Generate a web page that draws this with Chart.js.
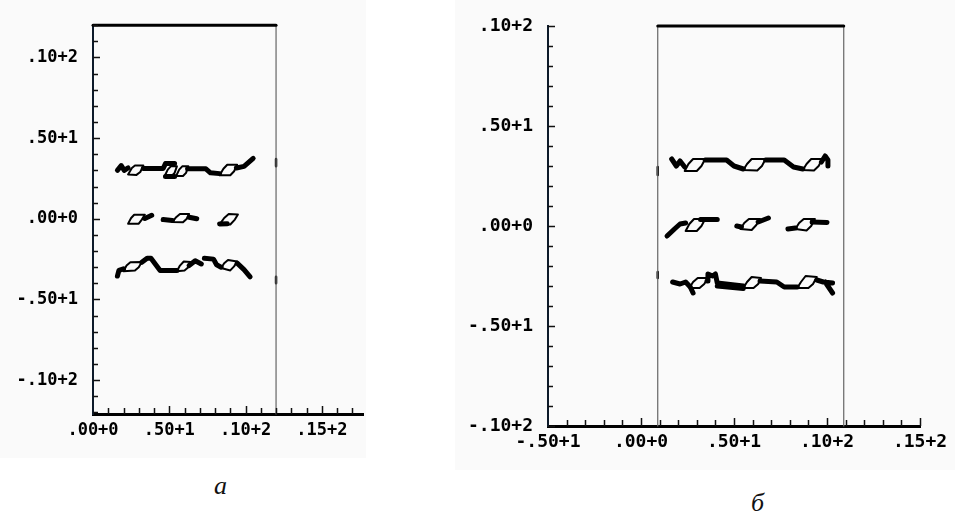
<!DOCTYPE html>
<html>
<head>
<meta charset="utf-8">
<script src="https://cdn.jsdelivr.net/npm/chart.js@4/dist/chart.umd.min.js"></script>
<style>
  body { margin: 0; background: #fff; width: 955px; height: 518px; overflow: hidden; position: relative; }
  canvas { position: absolute; top: 0; background: #fafafa; }
  #chartA { left: 0; }
  #chartB { left: 455px; }
  .cap { position: absolute; font: italic 26px "Liberation Serif", "DejaVu Serif", serif; line-height: 26px; color: #111; }
</style>
</head>
<body>
<canvas id="chartA" width="366" height="458"></canvas>
<canvas id="chartB" width="500" height="470"></canvas>
<div class="cap" style="left:214px; top:473px">а</div>
<div class="cap" style="left:751px; top:490px">б</div>

<script>
// tick values + the old-style labels printed on them
const yTicks = [-10, -5, 0, 5, 10];
const yLabels = ['-.10+2', '-.50+1', '.00+0', '.50+1', '.10+2'];
const xTicksA = [0, 5, 10, 15];
const xLabelsA = ['.00+0', '.50+1', '.10+2', '.15+2'];
const xTicksB = [-5, 0, 5, 10, 15];
const xLabelsB = ['-.50+1', '.00+0', '.50+1', '.10+2', '.15+2'];

// ---- panel a ----
const aBoxTop = [[0, 12], [12, 12]];
const aBoxSide = [[12, 12], [12, -12.1]];
const aMarks = [[12, 3.25], [12, 3.7], null, [12, -3.6], [12, -4.0]];

const aUpperThick = [
  [1.6, 3.0], [1.85, 3.3], [2.05, 3.0], [2.3, 3.15], null,
  [3.3, 3.12], [4.6, 3.12], [4.75, 3.42], [5.35, 3.42], null,
  [4.75, 2.62], [5.35, 2.62], null,
  [6.2, 3.1], [7.4, 3.1], [7.7, 2.85], [8.3, 2.8], null,
  [9.4, 3.15], [9.9, 3.25], [10.2, 3.5], [10.5, 3.75]
];
const aUpperLoops = [
  [2.3, 2.75], [2.55, 3.15], [2.75, 3.3], [3.3, 3.3], [3.1, 2.9], [2.85, 2.72], [2.3, 2.75], null,
  [4.7, 2.65], [4.9, 3.05], [5.1, 3.25], [5.5, 3.25], [5.35, 2.85], [5.15, 2.65], [4.7, 2.65], null,
  [5.45, 2.65], [5.65, 3.05], [5.85, 3.25], [6.25, 3.25], [6.1, 2.85], [5.9, 2.65], [5.45, 2.65], null,
  [8.3, 2.7], [8.55, 3.1], [8.8, 3.35], [9.45, 3.35], [9.25, 2.95], [9.0, 2.7], [8.3, 2.7]
];
const aMiddleThick = [
  [3.4, 0.02], [3.85, 0.22], null,
  [4.6, -0.05], [5.2, -0.1], null,
  [6.3, 0.1], [6.8, 0.0], null,
  [8.3, -0.32], [8.8, -0.3]
];
const aMiddleLoops = [
  [2.3, -0.3], [2.5, 0.05], [2.7, 0.25], [3.4, 0.25], [3.2, -0.05], [3.0, -0.3], [2.3, -0.3], null,
  [5.2, -0.2], [5.45, 0.1], [5.7, 0.3], [6.3, 0.3], [6.15, 0.0], [5.9, -0.22], [5.2, -0.2], null,
  [8.3, -0.35], [8.6, 0.05], [8.9, 0.3], [9.5, 0.27], [9.3, -0.05], [9.0, -0.35], [8.3, -0.35]
];
const aLowerThick = [
  [1.6, -3.55], [1.7, -3.2], [2.0, -3.1], null,
  [3.2, -2.7], [3.55, -2.45], [3.8, -2.45], [4.4, -3.2], [5.5, -3.2], null,
  [6.3, -2.9], [6.7, -2.6], [7.1, -2.8], null,
  [7.3, -2.45], [7.9, -2.5], [8.1, -2.85], [8.4, -3.0], null,
  [9.45, -2.75], [9.9, -3.15], [10.3, -3.6]
];
const aLowerLoops = [
  [2.0, -3.25], [2.2, -2.9], [2.45, -2.7], [3.2, -2.68], [3.0, -3.0], [2.75, -3.2], [2.0, -3.25], null,
  [5.5, -3.25], [5.7, -2.9], [5.95, -2.65], [6.4, -2.68], [6.25, -3.0], [6.0, -3.2], [5.5, -3.25], null,
  [8.4, -3.05], [8.6, -2.75], [8.85, -2.55], [9.45, -2.65], [9.25, -2.95], [9.0, -3.2], [8.4, -3.05]
];

// ---- panel б ----
const bBoxTop = [[0.9, 10], [10.9, 10]];
const bBoxSide = [[0.9, -10], [0.9, 10], null, [10.9, 10], [10.9, -10]];
const bMarks = [[0.9, 2.55], [0.9, 2.95], null, [0.9, -2.3], [0.9, -2.6]];

const bUpperThick = [
  [1.65, 3.35], [1.9, 3.0], [2.1, 3.25], [2.35, 2.95], null,
  [3.45, 3.3], [4.6, 3.3], [5.0, 3.0], [5.5, 2.85], null,
  [6.7, 3.3], [7.7, 3.3], [8.2, 2.95], [8.7, 2.85], null,
  [9.7, 3.2], [9.9, 3.5], [10.05, 3.3], [10.05, 3.0]
];
const bUpperLoops = [
  [2.35, 2.75], [2.55, 3.1], [2.8, 3.35], [3.45, 3.35], [3.25, 3.0], [3.0, 2.75], [2.35, 2.75], null,
  [5.5, 2.8], [5.7, 3.1], [5.95, 3.35], [6.7, 3.35], [6.5, 3.0], [6.25, 2.78], [5.5, 2.8], null,
  [8.7, 2.8], [8.9, 3.1], [9.15, 3.35], [9.75, 3.35], [9.55, 3.0], [9.3, 2.78], [8.7, 2.8]
];
const bMiddleThick = [
  [1.4, -0.5], [1.8, -0.15], [2.1, 0.1], [2.4, 0.15], null,
  [3.2, 0.33], [4.1, 0.33], null,
  [5.15, 0.0], [5.4, -0.05], null,
  [6.3, 0.2], [6.85, 0.4], null,
  [7.9, -0.15], [8.3, -0.1], null,
  [9.2, 0.2], [10.0, 0.18]
];
const bMiddleLoops = [
  [2.4, -0.25], [2.6, 0.1], [2.85, 0.35], [3.45, 0.35], [3.25, 0.0], [3.0, -0.25], [2.4, -0.25], null,
  [5.35, -0.15], [5.55, 0.15], [5.8, 0.35], [6.4, 0.35], [6.2, 0.05], [5.95, -0.2], [5.35, -0.15], null,
  [8.3, -0.15], [8.5, 0.15], [8.75, 0.35], [9.35, 0.35], [9.15, 0.0], [8.9, -0.22], [8.3, -0.15]
];
const bLowerThick = [
  [1.7, -2.8], [2.1, -2.9], [2.4, -2.8], [2.65, -3.05], [2.8, -3.35], null,
  [3.55, -2.75], [3.6, -2.4], [3.85, -2.5], [4.0, -2.4], [4.1, -2.85], [5.5, -3.0], null,
  [4.1, -3.0], [5.5, -3.12], null,
  [6.4, -2.75], [7.3, -2.8], [7.7, -3.05], [8.4, -3.05], null,
  [9.45, -2.7], [9.8, -2.8], [10.3, -2.85], null,
  [9.9, -2.8], [10.3, -3.35]
];
const bLowerLoops = [
  [2.6, -3.1], [2.8, -2.8], [3.05, -2.6], [3.6, -2.6], [3.4, -2.9], [3.15, -3.1], [2.6, -3.1], null,
  [5.5, -3.1], [5.7, -2.8], [5.95, -2.55], [6.45, -2.6], [6.3, -2.9], [6.05, -3.1], [5.5, -3.1], null,
  [8.4, -3.1], [8.6, -2.8], [8.85, -2.5], [9.45, -2.55], [9.25, -2.9], [9.0, -3.1], [8.4, -3.1]
];

const toPts = (arr) => arr.map(p => p ? { x: p[0], y: p[1] } : { x: null, y: null });

const line = (d, width, color) => ({
  data: toPts(d),
  showLine: true,
  spanGaps: false,
  borderColor: color || '#000',
  borderWidth: width,
  pointRadius: 0,
  borderJoinStyle: 'round',
  borderCapStyle: 'round',
  clip: false
});

// small tick marks drawn on the inner side of both axes, every unit
const innerTicks = {
  id: 'innerTicks',
  afterDraw(chart) {
    const { ctx, scales: { x, y } } = chart;
    ctx.save();
    ctx.strokeStyle = '#111';
    ctx.lineWidth = 1.5;
    ctx.beginPath();
    for (let v = Math.ceil(y.min); v <= y.max; v++) {
      const py = Math.round(y.getPixelForValue(v)) + 0.5;
      const len = v % 5 === 0 ? 7 : 5;
      ctx.moveTo(x.left, py);
      ctx.lineTo(x.left + len, py);
    }
    for (let v = Math.ceil(x.min) + 1; v <= x.max; v++) {
      const px = Math.round(x.getPixelForValue(v)) + 0.5;
      const len = v % 5 === 0 ? 8 : 6;
      ctx.moveTo(px, y.bottom);
      ctx.lineTo(px, y.bottom - len);
    }
    ctx.stroke();
    ctx.restore();
  }
};

const makeOptions = (xMin, xMax, yMin, yMax, xTicks, xLabels, fontSize, pad) => ({
  responsive: false,
  animation: false,
  events: [],
  layout: { padding: pad },
  plugins: { legend: { display: false }, tooltip: { enabled: false } },
  scales: {
    x: {
      type: 'linear', min: xMin, max: xMax,
      grid: { display: false, drawTicks: false },
      border: { display: true, color: '#000', width: 3 },
      afterBuildTicks: (s) => { s.ticks = xTicks.map(v => ({ value: v })); },
      afterFit: (s) => { s.height = 44; },
      ticks: {
        padding: 6, color: '#000', maxRotation: 0, autoSkip: false,
        font: { family: '"DejaVu Sans Mono", monospace', weight: 'bold', size: fontSize },
        callback: (v) => xLabels[xTicks.indexOf(v)]
      }
    },
    y: {
      type: 'linear', min: yMin, max: yMax,
      grid: { display: false, drawTicks: false },
      border: { display: true, color: '#0d1a2a', width: 2 },
      afterBuildTicks: (s) => { s.ticks = yTicks.map(v => ({ value: v })); },
      afterFit: (s) => { s.width = 93; },
      ticks: {
        padding: 15, color: '#000', autoSkip: false,
        font: { family: '"DejaVu Sans Mono", monospace', weight: 'bold', size: fontSize },
        callback: (v) => yLabels[yTicks.indexOf(v)]
      }
    }
  }
});

const chartA = new Chart(document.getElementById('chartA'), {
  type: 'scatter',
  data: {
    datasets: [
      line(aBoxTop, 3),
      line(aBoxSide, 1.2, '#666'),
      line(aMarks, 2.5),
      line(aUpperThick, 5), line(aUpperLoops, 2),
      line(aMiddleThick, 5), line(aMiddleLoops, 2),
      line(aLowerThick, 5), line(aLowerLoops, 2)
    ]
  },
  options: makeOptions(0, 17.7, -12.1, 12, xTicksA, xLabelsA, 17, { top: 19, right: 3, left: 0, bottom: 0 }),
  plugins: [innerTicks]
});

const chartB = new Chart(document.getElementById('chartB'), {
  type: 'scatter',
  data: {
    datasets: [
      line(bBoxTop, 3),
      line(bBoxSide, 1.2, '#666'),
      line(bMarks, 2.5),
      line(bUpperThick, 5), line(bUpperLoops, 2),
      line(bMiddleThick, 5), line(bMiddleLoops, 2),
      line(bLowerThick, 5), line(bLowerLoops, 2)
    ]
  },
  options: makeOptions(-5, 15, -10, 10, xTicksB, xLabelsB, 18, { top: 26, right: 35, left: 0, bottom: 0 }),
  plugins: [innerTicks]
});
</script>
</body>
</html>
